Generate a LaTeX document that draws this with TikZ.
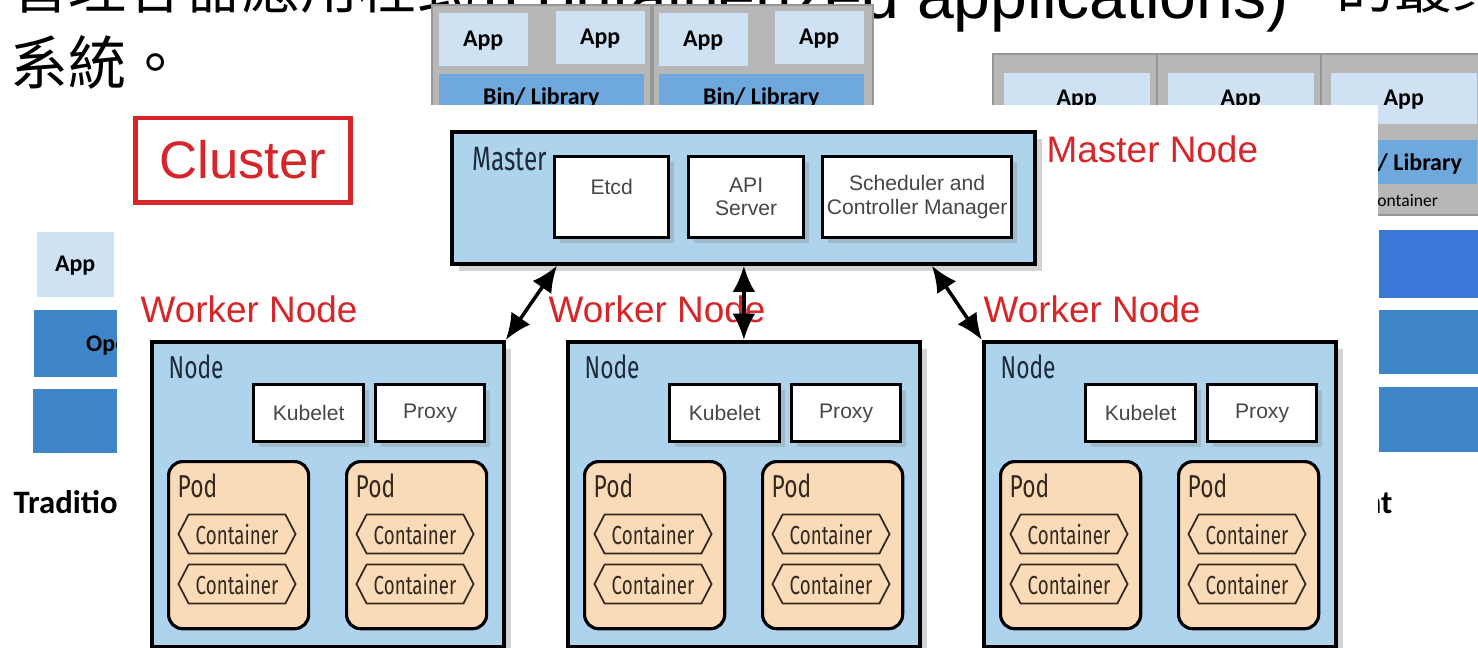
\documentclass[tikz,border=0pt]{standalone}
\usepackage{fontspec}
\usetikzlibrary{arrows.meta,shapes.symbols,shadows,positioning}
\setmainfont{Liberation Sans}
\newfontfamily\cjkfont{Noto Sans CJK TC}
\newfontfamily\calibrifont{Carlito}
\newfontfamily\condfont[FakeStretch=0.72]{Fira Sans}

\definecolor{kubeblue}{RGB}{174,211,236}
\definecolor{podpeach}{RGB}{250,219,183}
\definecolor{kubered}{RGB}{214,38,42}
\definecolor{labelnavy}{RGB}{28,42,58}
\definecolor{ctrbrown}{RGB}{52,40,32}
\definecolor{parttext}{RGB}{70,70,70}
\definecolor{shotgray}{RGB}{183,183,183}
\definecolor{shotedge}{RGB}{150,150,150}
\definecolor{applight}{RGB}{207,226,243}
\definecolor{libblue}{RGB}{111,168,220}
\definecolor{osblue}{RGB}{61,133,198}
\definecolor{rtblue}{RGB}{60,120,216}

\tikzset{
  pagetext/.style={anchor=base west, inner sep=0pt, font=\cjkfont\fontsize{16.5}{18}\selectfont},
  graybox/.style={fill=shotgray, draw=shotedge, line width=.5pt},
  appbox/.style={fill=applight, anchor=north west, inner sep=0pt, text depth=0pt,
    font=\calibrifont\bfseries\fontsize{6.8}{8}\selectfont},
  libbox/.style={appbox, fill=libblue},
  redtext/.style={anchor=base west, inner sep=0pt, text=kubered, font=\fontsize{10.5}{12}\selectfont},
  clusterbox/.style={draw=kubered, line width=1.4pt, text=kubered, inner sep=0pt,
    font=\fontsize{15}{18}\selectfont},
  nodebox/.style={draw=black, line width=1pt, fill=kubeblue, anchor=north west,
    drop shadow={opacity=.35, shadow xshift=2pt, shadow yshift=-2pt}},
  partbox/.style={draw=black, line width=.9pt, fill=white, anchor=north west, align=center,
    inner sep=0pt, text=parttext, font=\fontsize{6}{6.6}\selectfont,
    drop shadow={opacity=.3, shadow xshift=1.5pt, shadow yshift=-1.5pt}},
  podbox/.style={draw=black, line width=.9pt, fill=podpeach, rounded corners=4pt,
    anchor=north west, minimum width=1.4cm, minimum height=1.67cm},
  ctr/.style={signal, signal to=west and east, signal pointer angle=125, draw=ctrbrown,
    line width=.5pt, fill=podpeach, minimum width=1.17cm, minimum height=.39cm, inner sep=0pt,
    text=ctrbrown, font=\condfont\fontsize{7.4}{8}\selectfont},
  tag/.style={anchor=base west, inner sep=0pt, text=labelnavy},
  link/.style={{Latex[length=7.5pt,width=6.5pt]}-{Latex[length=7.5pt,width=6.5pt]}, line width=1pt},
}

\begin{document}
\begin{tikzpicture}[x=0.01cm, y=-0.01cm]
\useasboundingbox (0,0) rectangle (1478,647);

% page text behind the slide pictures
\node[pagetext] (line1a) at (10,8) {管理容器應用程式};
\node[pagetext, font=\fontsize{18.8}{22}\selectfont] (line1b) at (483,18) {(containerized applications)};
\node[pagetext] (line1c) at (1336,8) {的叢集};
\node[pagetext] (line2) at (10,84) {系統。};

% virtualized deployment (top middle)
\filldraw[graybox] (432,5) rectangle (873,130);
\draw[shotedge, line width=1pt] (652,5) -- (652,130);
\node[appbox, minimum width=.89cm, minimum height=.53cm] (vapp1) at (438,12) {App};
\node[appbox, minimum width=.89cm, minimum height=.53cm] (vapp2) at (555,10) {App};
\node[appbox, minimum width=.89cm, minimum height=.53cm] (vapp3) at (658,12) {App};
\node[appbox, minimum width=.89cm, minimum height=.53cm] (vapp4) at (774,10) {App};
\node[libbox, minimum width=2.05cm, minimum height=.44cm] (vlib1) at (438,73) {Bin/ Library};
\node[libbox, minimum width=2.05cm, minimum height=.44cm] (vlib2) at (658,73) {Bin/ Library};

% container deployment (right)
\filldraw[graybox] (993,54) rectangle (1500,215);
\draw[shotedge] (1157,54) -- (1157,215) (1321,54) -- (1321,215);
\node[appbox, minimum width=1.46cm, minimum height=.51cm] (capp1) at (1003,72) {App};
\node[appbox, minimum width=1.46cm, minimum height=.51cm] (capp2) at (1167,72) {App};
\node[appbox, minimum width=1.46cm, minimum height=.51cm] (capp3) at (1330,72) {App};
\node[libbox, minimum width=1.46cm, minimum height=.44cm] (clib3) at (1330,139) {Bin/ Library};
\node[inner sep=0pt, font=\calibrifont\fontsize{5}{6}\selectfont] (ctrlbl) at (1403,200) {Container};
\fill[rtblue] (1379,230) rectangle (1500,298);
\fill[osblue] (1379,310) rectangle (1500,374);
\fill[osblue] (1379,387) rectangle (1500,452);
\node[anchor=base east, inner sep=0pt, font=\calibrifont\bfseries\fontsize{9.3}{11}\selectfont]
  (cdeploy) at (1393,513) {Container Deployment};

% traditional deployment (left)
\node[appbox, minimum width=.77cm, minimum height=.65cm] (tapp) at (36,231) {App};
\node[appbox, fill=osblue, minimum width=2.80cm, minimum height=.67cm] (tos) at (33,309) {Operating System};
\fill[osblue] (33,389) rectangle (300,453);
\node[anchor=base west, inner sep=0pt, font=\calibrifont\bfseries\fontsize{9.3}{11}\selectfont]
  (tdeploy) at (13,513) {Traditional Deployment};

% the cluster picture on top
\fill[white] (117,105) rectangle (1378,647);

\node[clusterbox, minimum width=2.14cm, minimum height=.84cm] (cluster) at (243,160) {Cluster};

\node[nodebox, minimum width=5.83cm, minimum height=1.32cm] (master) at (450,130) {};
\node[tag, font=\condfont\fontsize{9.6}{11}\selectfont] (masterlbl) at (472,170) {Master};
\node[partbox, minimum width=1.14cm, minimum height=.81cm, text depth=.2cm] (etcd) at (553,155) {Etcd};
\node[partbox, minimum width=1.15cm, minimum height=.81cm] (api) at (687,155) {API\\Server};
\node[partbox, minimum width=1.89cm, minimum height=.81cm] (sched) at (821,155) {Scheduler and\\Controller Manager};
\node[redtext] (masternode) at (1046,162) {Master Node};

\foreach \w/\x/\lx in {1/150/140, 2/566/548, 3/982/983} {
  \node[redtext] (wlabel\w) at (\lx,322) {Worker Node};
  \node[nodebox, minimum width=3.52cm, minimum height=3.05cm] (worker\w) at (\x,340) {};
  \node[tag, font=\condfont\fontsize{9}{10}\selectfont] (nodelbl\w) at (\x+18,378) {Node};
  \node[partbox, minimum width=1.10cm, minimum height=.57cm] (kubelet\w) at (\x+102,383) {Kubelet};
  \node[partbox, minimum width=1.09cm, minimum height=.57cm] (proxy\w) at (\x+224,383) {Proxy};
  \foreach \p/\dx in {1/17, 2/195} {
    \node[podbox] (pod\w\p) at (\x+\dx,460) {};
    \node[tag, text=ctrbrown, font=\condfont\fontsize{9}{10}\selectfont] (podlbl\w\p) at (\x+\dx+10,497) {Pod};
    \node[ctr] (ctr\w\p-1) at (\x+\dx+70,534) {Container};
    \node[ctr] (ctr\w\p-2) at (\x+\dx+70,584) {Container};
  }
}

% master <-> workers
\draw[link] ([xshift=1.07cm]master.south west) -- (worker1.north east);
\draw[link] (worker2.north |- master.south) -- (worker2.north);
\draw[link] ([xshift=-1.05cm]master.south east) -- (worker3.north west);
\end{tikzpicture}
\end{document}
